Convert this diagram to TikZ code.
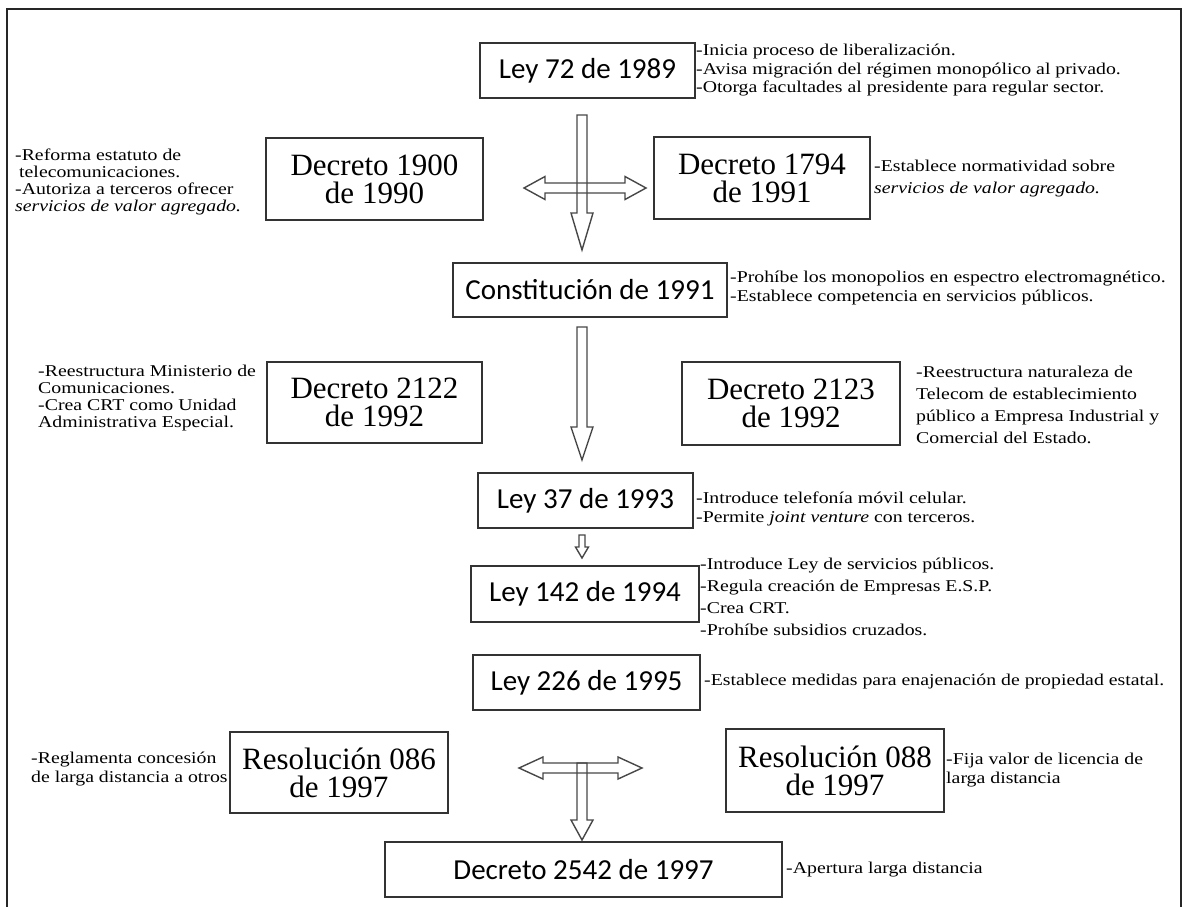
\documentclass[tikz,border=0pt]{standalone}
\usepackage{fontspec}
\setmainfont{Liberation Serif}
\newfontfamily\boxsans{Carlito}
\newfontfamily\notefont[FakeStretch=1.2]{Liberation Serif}
\usetikzlibrary{calc}
% hollow block arrow pointing down: #1 start coord, #2 tip coord, #3 shaft half width, #4 head half width, #5 head length
\newcommand\blkdown[5]{%
  \draw[blk] let \p1=(#1), \p2=(#2) in
    (\x1-#3pt,\y1) -- (\x1-#3pt,\y2+#5pt) -- (\x1-#4pt,\y2+#5pt) -- (\x2,\y2)
    -- (\x1+#4pt,\y2+#5pt) -- (\x1+#3pt,\y2+#5pt) -- (\x1+#3pt,\y1) -- cycle;}
% hollow double arrow left-right: #1 left tip, #2 right tip
\newcommand\blkdouble[5]{%
  \draw[blk] let \p1=(#1), \p2=(#2) in
    (\x1,\y1) -- (\x1+#5pt,\y1+#4pt) -- (\x1+#5pt,\y1+#3pt) -- (\x2-#5pt,\y1+#3pt)
    -- (\x2-#5pt,\y1+#4pt) -- (\x2,\y1) -- (\x2-#5pt,\y1-#4pt) -- (\x2-#5pt,\y1-#3pt)
    -- (\x1+#5pt,\y1-#3pt) -- (\x1+#5pt,\y1-#4pt) -- cycle;}
\begin{document}
\begin{tikzpicture}[x=1pt,y=-1pt,
  lawbox/.style={draw=black!80, line width=1.8pt, inner sep=0pt, align=center, fill=white},
  sansbox/.style={lawbox, font=\boxsans\fontsize{29}{30}\selectfont},
  serifbox/.style={lawbox, font=\fontsize{31}{28}\selectfont},
  note/.style={inner sep=0pt, align=left, anchor=west, font=\notefont\fontsize{16.5}{18.5}\selectfont},
  notetight/.style={note, font=\notefont\fontsize{16.5}{17}\selectfont},
  notewide/.style={note, font=\notefont\fontsize{16.5}{22}\selectfont},
  blk/.style={draw=black!72, line width=1.4pt, line join=miter},
  frame/.style={draw=black!85, line width=1.4pt}]
\useasboundingbox (0,0) rectangle (1188,907);
\fill[white] (0,0) rectangle (1188,907);
\draw[frame] (7,907) -- (7,9) -- (1181,9) -- (1181,907);

% ---- boxes ----
\node[sansbox, minimum width=215pt, minimum height=55pt] (ley72) at (587.5,70.5) {Ley 72 de 1989};
\node[serifbox, minimum width=217pt, minimum height=82pt] (d1900) at (374.5,179) {Decreto 1900\\de 1990};
\node[serifbox, minimum width=216pt, minimum height=82pt] (d1794) at (762,178) {Decreto 1794\\de 1991};
\node[sansbox, minimum width=274pt, minimum height=54pt] (const) at (590,290) {Constitución de 1991};
\node[serifbox, minimum width=215pt, minimum height=81pt] (d2122) at (374.5,402.5) {Decreto 2122\\de 1992};
\node[serifbox, minimum width=218pt, minimum height=83pt] (d2123) at (791,403.5) {Decreto 2123\\de 1992};
\node[sansbox, minimum width=215pt, minimum height=55pt] (ley37) at (585.5,500.5) {Ley 37 de 1993};
\node[sansbox, minimum width=228pt, minimum height=56pt] (ley142) at (585,594) {Ley 142 de 1994};
\node[sansbox, minimum width=227pt, minimum height=55pt] (ley226) at (586.5,682.5) {Ley 226 de 1995};
\node[serifbox, minimum width=218pt, minimum height=81pt] (r086) at (339,772.5) {Resolución 086\\de 1997};
\node[serifbox, minimum width=218pt, minimum height=83pt] (r088) at (835,770.5) {Resolución 088\\de 1997};
\node[sansbox, minimum width=397pt, minimum height=55pt] (d2542) at (583.5,869.5) {Decreto 2542 de 1997};

% ---- notes ----
\node[note] (n72) at (696,70.5) {-Inicia proceso de liberalización.\\-Avisa migración del régimen monopólico al privado.\\-Otorga facultades al presidente para regular sector.};
\node[notetight] (n1900) at (15,181.5) {-Reforma estatuto de\\\hspace{4pt}telecomunicaciones.\\-Autoriza a terceros ofrecer\\\textit{servicios de valor agregado.}};
\node[notewide] (n1794) at (874,178.5) {-Establece normatividad sobre\\\textit{servicios de valor agregado.}};
\node[note] (nconst) at (730,288) {-Prohíbe los monopolios en espectro electromagnético.\\-Establece competencia en servicios públicos.};
\node[notetight] (n2122) at (38,398) {-Reestructura Ministerio de\\Comunicaciones.\\-Crea CRT como Unidad\\Administrativa Especial.};
\node[notewide] (n2123) at (916,405) {-Reestructura naturaleza de\\Telecom de establecimiento\\público a Empresa Industrial y\\Comercial del Estado.};
\node[note] (n37) at (696,509) {-Introduce telefonía móvil celular.\\-Permite \textit{joint venture} con terceros.};
\node[notewide] (n142) at (700,596.5) {-Introduce Ley de servicios públicos.\\-Regula creación de Empresas E.S.P.\\-Crea CRT.\\-Prohíbe subsidios cruzados.};
\node[note] (n226) at (704,682) {-Establece medidas para enajenación de propiedad estatal.};
\node[note] (n086) at (31,769) {-Reglamenta concesión\\de larga distancia a otros};
\node[note] (n088) at (946,770) {-Fija valor de licencia de\\larga distancia};
\node[note] (n2542) at (786,870) {-Apertura larga distancia};

% ---- block arrows ----
\coordinate (h1l) at (524,188);
\coordinate (h1r) at (646,188);
\coordinate (a1s) at (582,115);
\coordinate (a1e) at (582,250);
\coordinate (a2s) at (582,327);
\coordinate (a2e) at (582,460);
\coordinate (a3s) at (582,535);
\coordinate (a3e) at (582,558);
\coordinate (h2l) at (519,768);
\coordinate (h2r) at (642,768);
\coordinate (a4s) at (582,763);
\coordinate (a4e) at (582,840);
\blkdouble{h1l}{h1r}{5}{11.5}{21}
\blkdown{a1s}{a1e}{5}{11}{37}
\blkdown{a2s}{a2e}{5}{11}{33}
\blkdown{a3s}{a3e}{3}{6.5}{11}
\blkdouble{h2l}{h2r}{5}{11}{24}
\blkdown{a4s}{a4e}{5}{11}{20}
\end{tikzpicture}
\end{document}
